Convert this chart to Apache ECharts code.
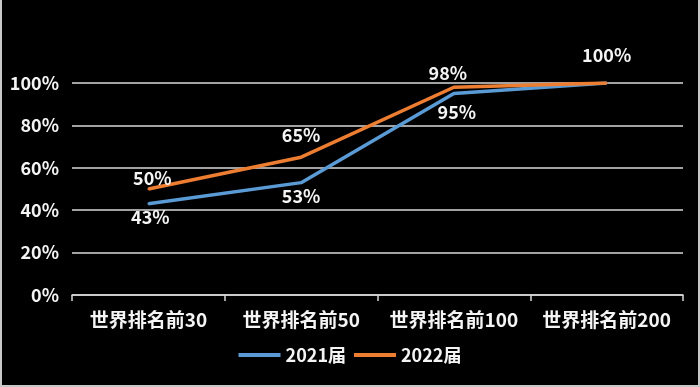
<!DOCTYPE html>
<html><head><meta charset="utf-8">
<script src="https://cdn.jsdelivr.net/npm/echarts@6/dist/echarts.min.js"></script>
<style>
html,body{margin:0;padding:0;background:#c8c8c8;}
#c{position:absolute;left:2px;top:0;width:696px;height:385px;background:#000;}
</style></head>
<body><div id="c"></div>
<script>
const categories = ['世界排名前30','世界排名前50','世界排名前100','世界排名前200'];
const yTicks = [0,20,40,60,80,100];
const s2021 = [43,53,95,100];
const s2022 = [50,65,98,100];
const names = ['2021届','2022届'];

const chart = echarts.init(document.getElementById('c'));
const font = '"Noto Sans CJK SC","Noto Sans",sans-serif';
const fw = 'bold';
const lbl = {color:'#f4f4f4',fontSize:18,fontWeight:fw,fontFamily:font,formatter:'{c}%'};
chart.setOption({
  backgroundColor:'#000',
  animation:false,
  grid:{left:70,right:15,top:83,bottom:90},
  legend:{bottom:16,left:'center',itemWidth:42,itemHeight:4,itemGap:8,
    icon:'rect',
    textStyle:{color:'#f4f4f4',fontSize:18,fontWeight:fw,fontFamily:font},
    data:names},
  xAxis:{type:'category',data:categories,boundaryGap:true,
    axisLine:{lineStyle:{color:'#d9d9d9',width:1.5}},
    axisTick:{show:true,interval:0,length:6,lineStyle:{color:'#d9d9d9',width:1.5}},
    axisLabel:{interval:0,hideOverlap:false,color:'#f4f4f4',fontSize:19,fontWeight:fw,fontFamily:font,margin:15}},
  yAxis:{type:'value',min:0,max:100,interval:20,
    axisLine:{show:false},axisTick:{show:false},
    splitLine:{lineStyle:{color:'#d9d9d9',width:1.5}},
    axisLabel:{color:'#f4f4f4',fontSize:18,fontWeight:fw,fontFamily:font,margin:13,
      formatter:v=>yTicks.includes(v)?v+'%':''}},
  series:[
    {name:names[0],type:'line',data:s2021.map((v,i)=>({value:v,
        label: i===3?{show:false}:{show:true,offset:[[2,1],[0,2],[3,7],[0,0]][i]}})),
     symbol:'circle',symbolSize:2,showSymbol:true,lineStyle:{color:'#5B9BD5',width:3.5},itemStyle:{color:'#5B9BD5'},
     label:Object.assign({show:true,position:'bottom',distance:2},lbl),z:2},
    {name:names[1],type:'line',data:s2022.map((v,i)=>({value:v,
        label:{show:true,offset:[[4,1],[0,-10],[-6,-2],[0,-16]][i]}})),
     symbol:'circle',symbolSize:2,showSymbol:true,lineStyle:{color:'#ED7D31',width:3.5},itemStyle:{color:'#ED7D31'},
     label:Object.assign({show:true,position:'top',distance:2},lbl),z:3}
  ]
});
</script></body></html>
